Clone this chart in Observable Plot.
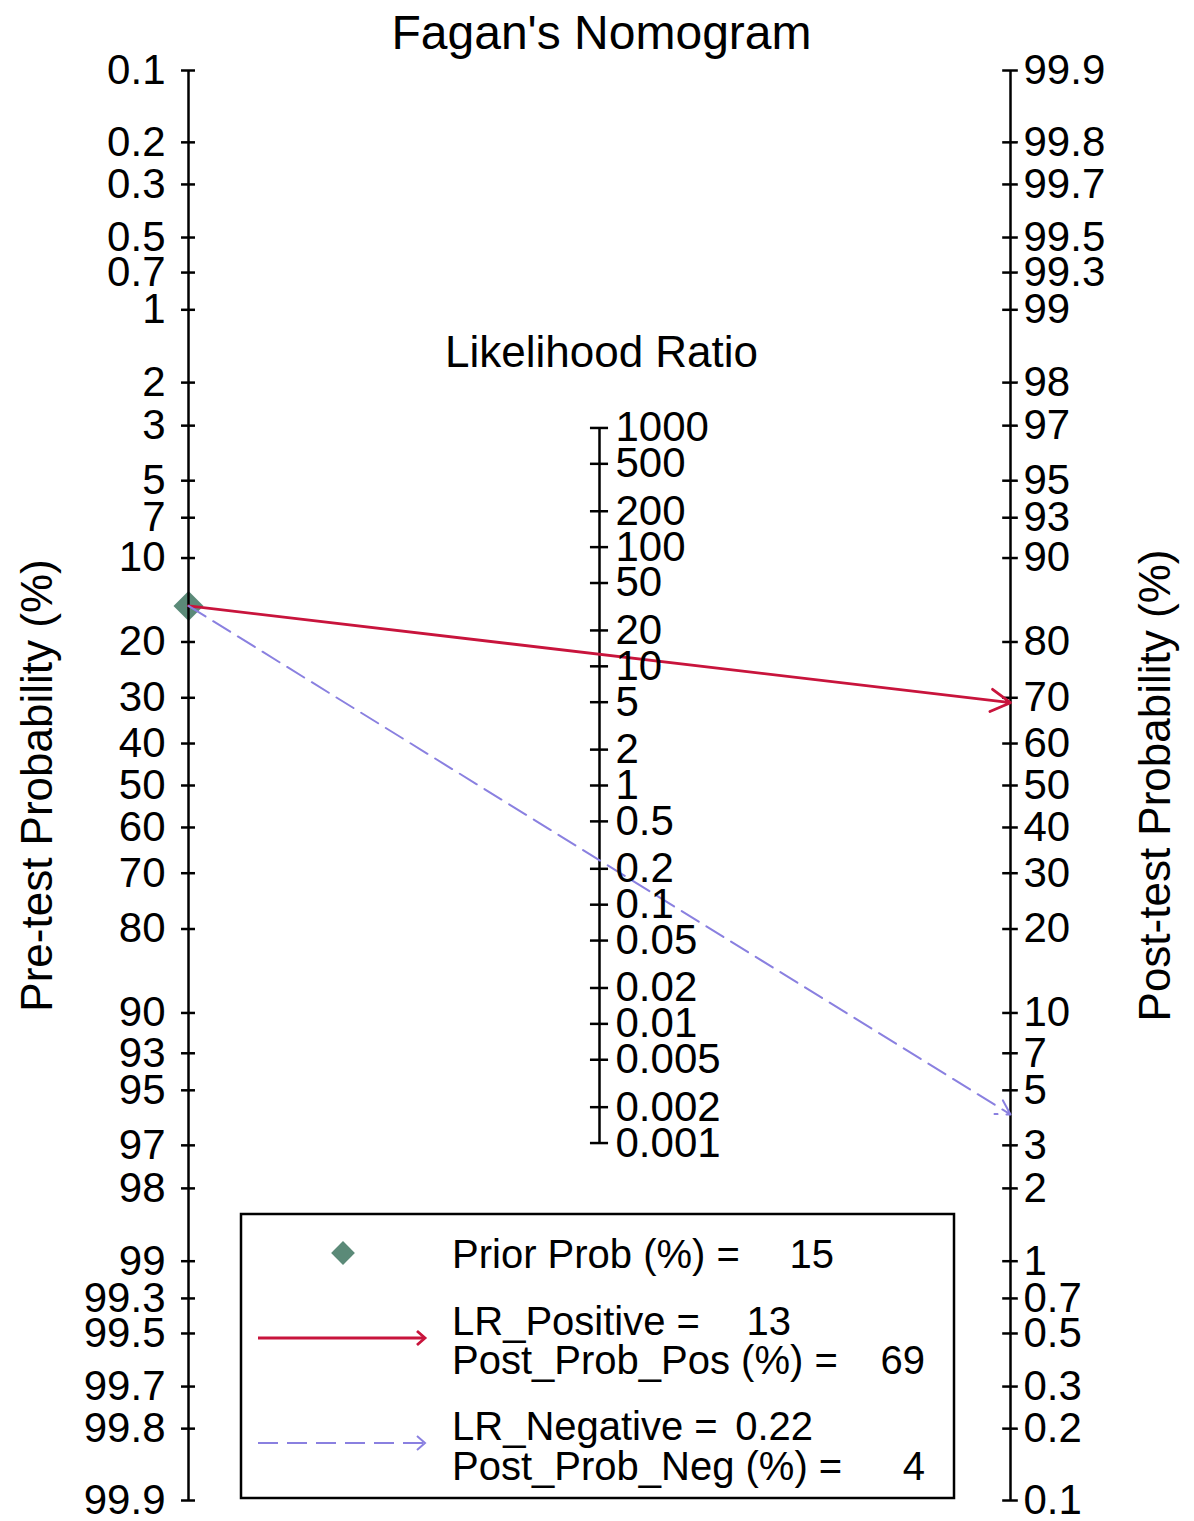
<!DOCTYPE html>
<html>
<head>
<meta charset="utf-8">
<script src="https://cdn.jsdelivr.net/npm/d3@7"></script>
<script src="https://cdn.jsdelivr.net/npm/@observablehq/plot@0.6"></script>
<style>
  html, body { margin: 0; padding: 0; background: white; }
  #chart { position: relative; width: 1194px; height: 1521px; }
</style>
</head>
<body>
<div id="chart"></div>
<script>
// ---- Data ----
const preTicks = [0.1, 0.2, 0.3, 0.5, 0.7, 1, 2, 3, 5, 7, 10, 20, 30, 40, 50, 60, 70, 80, 90, 93, 95, 97, 98, 99, 99.3, 99.5, 99.7, 99.8, 99.9];
const postTicks = [99.9, 99.8, 99.7, 99.5, 99.3, 99, 98, 97, 95, 93, 90, 80, 70, 60, 50, 40, 30, 20, 10, 7, 5, 3, 2, 1, 0.7, 0.5, 0.3, 0.2, 0.1];
const lrTicks = [1000, 500, 200, 100, 50, 20, 10, 5, 2, 1, 0.5, 0.2, 0.1, 0.05, 0.02, 0.01, 0.005, 0.002, 0.001];
const priorProb = [15];
const lrLabels = ["LR_Positive", "LR_Negative"];
const lrValues = [13, 0.22];
const postLabels = ["Post_Prob_Pos", "Post_Prob_Neg"];
const postValues = [69, 4];

const RED = "#c8143c";
const BLUE = "#8a80e0";
const GREEN = "#5b8a78";
const FONT = "'Liberation Sans', Arial, sans-serif";

// logit in percent units
const logit = p => Math.log(p / (100 - p));

// left: pre-test (u = logit), right: post-test (u = -logit), middle: LR (u = -ln(LR)/2)
const leftT = preTicks.map(p => ({pos: 0, u: logit(p), label: String(p)}));
const rightT = postTicks.map(p => ({pos: 1, u: -logit(p), label: String(p)}));
const midT = lrTicks.map(v => ({pos: 0.5, u: -Math.log(v) / 2, label: String(v)}));

const axesLines = [
  {pos: 0, u1: logit(0.1), u2: logit(99.9)},
  {pos: 0.5, u1: -Math.log(1000) / 2, u2: -Math.log(0.001) / 2},
  {pos: 1, u1: logit(0.1), u2: logit(99.9)}
];

const prior = priorProb.map(p => ({pos: 0, u: logit(p)}));
const arrows = postValues.map((v, i) => ({
  x1: 0, y1: logit(priorProb[0]), x2: 1, y2: -logit(v), kind: i
}));

const uMax = logit(99.9);

const plot = Plot.plot({
  width: 1194,
  height: 1521,
  marginLeft: 188,
  marginRight: 184,
  marginTop: 70,
  marginBottom: 21,
  style: {fontFamily: FONT, fontSize: "42px", background: "white", color: "black"},
  x: {domain: [0, 1], axis: null},
  y: {domain: [-uMax, uMax], reverse: true, axis: null},
  marks: [
    Plot.dot(prior, {x: "pos", y: "u", symbol: "diamond2", r: 13.5, fill: GREEN, stroke: "none"}),
    Plot.ruleX(axesLines, {x: "pos", y1: "u1", y2: "u2", stroke: "black", strokeWidth: 2.5}),
    Plot.ruleY(leftT, {y: "u", x1: d => d.pos - 0.0085, x2: d => d.pos + 0.0085, stroke: "black", strokeWidth: 2.5}),
    Plot.ruleY(rightT, {y: "u", x1: d => d.pos - 0.0095, x2: d => d.pos + 0.0095, stroke: "black", strokeWidth: 2.5}),
    Plot.ruleY(midT, {y: "u", x1: d => d.pos - 0.011, x2: d => d.pos + 0.011, stroke: "black", strokeWidth: 2.5}),
    Plot.arrow(arrows.filter(d => d.kind === 0), {x1: "x1", y1: "y1", x2: "x2", y2: "y2", stroke: RED, strokeWidth: 2.8, headLength: 12}),
    Plot.arrow(arrows.filter(d => d.kind === 1), {x1: "x1", y1: "y1", x2: "x2", y2: "y2", stroke: BLUE, strokeWidth: 2, headLength: 12, strokeDasharray: "20,9"}),
    Plot.text(leftT, {x: "pos", y: "u", text: "label", textAnchor: "end", dx: -23, fontSize: 42}),
    Plot.text(rightT, {x: "pos", y: "u", text: "label", textAnchor: "start", dx: 13, fontSize: 42}),
    Plot.text(midT, {x: "pos", y: "u", text: "label", textAnchor: "start", dx: 16, fontSize: 42}),
    Plot.text(["Fagan's Nomogram"], {frameAnchor: "top", lineAnchor: "middle", dy: -37, dx: 2, fontSize: 48}),
    Plot.text(["Likelihood Ratio"], {frameAnchor: "top", lineAnchor: "middle", dy: 282, dx: 2, fontSize: 44}),
    Plot.text(["Pre-test Probability (%)"], {frameAnchor: "left", textAnchor: "middle", dx: -151, rotate: -90, fontSize: 44}),
    Plot.text(["Post-test Probability (%)"], {frameAnchor: "right", textAnchor: "middle", dx: 145, rotate: -90, fontSize: 44})
  ]
});

document.getElementById("chart").appendChild(plot);

// ---- Legend (drawn inside the plot's SVG) ----
const svg = d3.select(plot);
const lg = svg.append("g").attr("transform", "translate(241,1214)")
  .attr("text-anchor", "start")
  .style("font-family", FONT).style("font-size", "40px");
lg.append("rect").attr("x", 0).attr("y", 0).attr("width", 713).attr("height", 284)
  .attr("fill", "white").attr("stroke", "black").attr("stroke-width", 2.5);

// diamond
lg.append("path").attr("d", d3.symbol(d3.symbolDiamond2, 360)())
  .attr("transform", "translate(102,39)").attr("fill", GREEN);

function row(label, value, y, valueRight) {
  lg.append("text").attr("x", 211).attr("y", y).attr("text-anchor", "start").text(label + " =");
  lg.append("text").attr("x", valueRight).attr("y", y).attr("text-anchor", "end").text(String(value));
}
row("Prior Prob (%)", priorProb[0], 54, 593);
row(lrLabels[0], lrValues[0], 121, 550);
row(postLabels[0] + " (%)", postValues[0], 160, 684);
row(lrLabels[1], lrValues[1], 226, 572);
row(postLabels[1] + " (%)", postValues[1], 266, 684);

function legArrow(y, color, dash, sw) {
  const g = lg.append("g").attr("stroke", color).attr("stroke-width", sw).attr("fill", "none");
  g.append("line").attr("x1", 17).attr("y1", y).attr("x2", 184).attr("y2", y)
    .attr("stroke-dasharray", dash || null);
  g.append("path").attr("d", `M${176},${y - 7}L${184},${y}L${176},${y + 7}`);
}
legArrow(124, RED, null, 2.8);
legArrow(229, BLUE, "20,9", 2);
</script>
</body>
</html>
